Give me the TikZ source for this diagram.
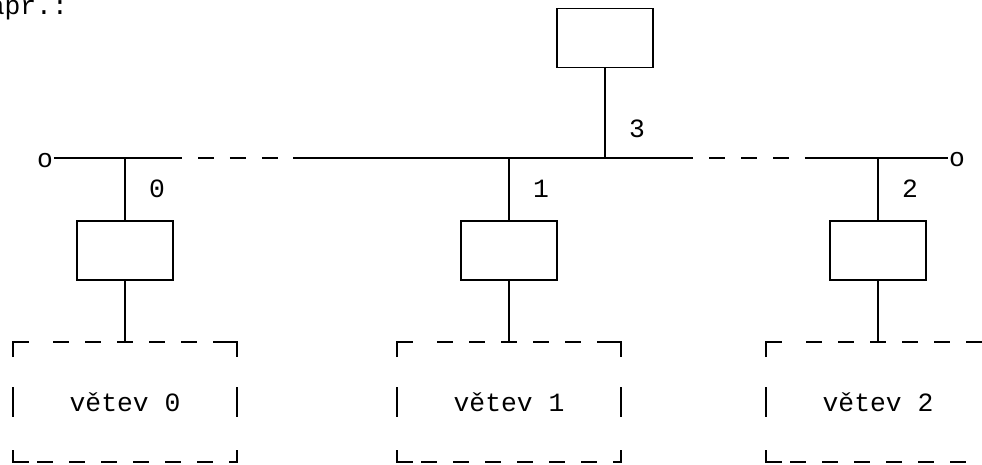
\documentclass[tikz,border=0pt]{standalone}
\usepackage{fontspec}
\setmonofont{Liberation Mono}

\tikzset{
  blk/.style={draw, minimum width=1.92cm, minimum height=1.18cm, inner sep=0pt},
  txt/.style={font=\ttfamily\fontsize{15}{18}\selectfont, inner sep=0pt, anchor=base},
  gapline/.style={dash pattern=on 0.32cm off 0.32cm, dash phase=0.32cm},
}

\begin{document}
\begin{tikzpicture}[x=0.02cm, y=-0.02cm, line width=1.1pt]
\useasboundingbox (0,0) rectangle (982,465);
\clip (0,0) rectangle (982,465);

\node[txt, anchor=base west] (hd) at (-28,15) {Např.:};

% bus with its two open ends
\node[txt] (o1) at (45,168) {o};
\node[txt] (o2) at (957,167) {o};
\coordinate (d1) at (182,158);
\coordinate (d2) at (293,158);
\coordinate (d3) at (693,158);
\coordinate (d4) at (805,158);

\draw (o1.east |- d1) -- (d1);
\draw[gapline] (d1) -- (d2);
\draw (d2) -- (d3);
\draw[gapline] (d3) -- (d4);
\draw (d4) -- (o2.west |- d4);

% root
\node[blk] (top) at (605,38) {};
\coordinate (j3) at (605,158);
\draw (top) -- (j3);
\node[txt] (n3) at (637,138) {3};

% branches
\foreach \i/\x in {0/125,1/509,2/878}{
  \coordinate (j\i) at (\x,158);
  \node[blk] (b\i) at (\x,250.5) {};
  \coordinate (t\i) at (\x,342);
  \draw (j\i) -- (b\i);
  \draw (b\i) -- (t\i);
  \node[txt] (n\i) at (\x+32,198) {\i};

  \begin{scope}[shift={(\x-125,0)}]
    \draw (13,357) -- (13,342) -- (29,342);
    \foreach \c in {3,5,...,11}
      \draw (5+16*\c,342) -- (21+16*\c,342);
    \draw (213,342) -- (237,342) -- (237,357);
    \draw (13,387) -- (13,417) (237,387) -- (237,417);
    \draw (13,450) -- (13,462) -- (29,462);
    \foreach \c in {2,4,...,12}
      \draw (5+16*\c,462) -- (21+16*\c,462);
    \draw (229,462) -- (237,462) -- (237,450);
  \end{scope}
  \node[txt] (v\i) at (\x,411) {větev \i};
}

\end{tikzpicture}
\end{document}
